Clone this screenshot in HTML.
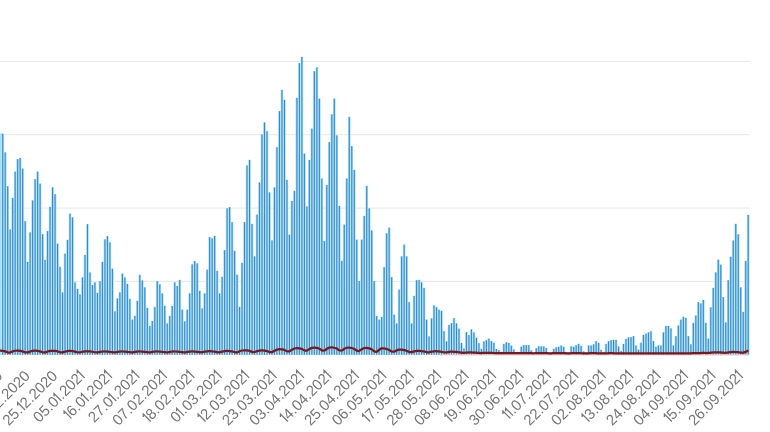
<!DOCTYPE html>
<html><head><meta charset="utf-8"><title>chart</title>
<style>
html,body{margin:0;padding:0;background:#fff;}
body{width:770px;height:432px;overflow:hidden;font-family:"Liberation Sans",sans-serif;}
svg{display:block;filter:blur(0.35px);}
.o{fill:none;stroke:#777777;stroke-width:1.3;stroke-linejoin:miter}
</style></head><body>
<svg width="770" height="432" viewBox="0 0 770 432">
<rect width="770" height="432" fill="#fff"/>
<rect x="0" y="60.85" width="749.8" height="1.1" fill="#e9e9e9"/>
<rect x="0" y="134.15" width="749.8" height="1.1" fill="#e9e9e9"/>
<rect x="0" y="207.55" width="749.8" height="1.1" fill="#e9e9e9"/>
<rect x="0" y="280.85" width="749.8" height="1.1" fill="#e9e9e9"/>
<g fill="#a4e0f8"><rect x="-1.09" y="133.45" width="2.6" height="221.35"/><rect x="1.40" y="133.45" width="2.6" height="221.35"/><rect x="3.89" y="152.20" width="2.6" height="202.60"/><rect x="6.39" y="185.95" width="2.6" height="168.85"/><rect x="8.88" y="229.20" width="2.6" height="125.60"/><rect x="11.37" y="197.70" width="2.6" height="157.10"/><rect x="13.87" y="171.45" width="2.6" height="183.35"/><rect x="16.36" y="158.95" width="2.6" height="195.85"/><rect x="18.85" y="157.70" width="2.6" height="197.10"/><rect x="21.35" y="168.45" width="2.6" height="186.35"/><rect x="23.84" y="220.95" width="2.6" height="133.85"/><rect x="26.33" y="261.70" width="2.6" height="93.10"/><rect x="28.83" y="232.20" width="2.6" height="122.60"/><rect x="31.32" y="200.20" width="2.6" height="154.60"/><rect x="33.81" y="178.95" width="2.6" height="175.85"/><rect x="36.31" y="171.45" width="2.6" height="183.35"/><rect x="38.80" y="183.45" width="2.6" height="171.35"/><rect x="41.29" y="233.95" width="2.6" height="120.85"/><rect x="43.79" y="259.70" width="2.6" height="95.10"/><rect x="46.28" y="230.95" width="2.6" height="123.85"/><rect x="48.77" y="206.70" width="2.6" height="148.10"/><rect x="51.27" y="187.20" width="2.6" height="167.60"/><rect x="53.76" y="193.95" width="2.6" height="160.85"/><rect x="56.25" y="243.45" width="2.6" height="111.35"/><rect x="58.75" y="266.70" width="2.6" height="88.10"/><rect x="61.24" y="292.20" width="2.6" height="62.60"/><rect x="63.73" y="253.45" width="2.6" height="101.35"/><rect x="66.23" y="239.70" width="2.6" height="115.10"/><rect x="68.72" y="213.45" width="2.6" height="141.35"/><rect x="71.21" y="217.20" width="2.6" height="137.60"/><rect x="73.71" y="282.20" width="2.6" height="72.60"/><rect x="76.20" y="288.70" width="2.6" height="66.10"/><rect x="78.69" y="294.20" width="2.6" height="60.60"/><rect x="81.19" y="277.20" width="2.6" height="77.60"/><rect x="83.68" y="254.70" width="2.6" height="100.10"/><rect x="86.17" y="223.95" width="2.6" height="130.85"/><rect x="88.67" y="272.20" width="2.6" height="82.60"/><rect x="91.16" y="284.70" width="2.6" height="70.10"/><rect x="93.65" y="282.20" width="2.6" height="72.60"/><rect x="96.15" y="292.70" width="2.6" height="62.10"/><rect x="98.64" y="280.95" width="2.6" height="73.85"/><rect x="101.13" y="261.70" width="2.6" height="93.10"/><rect x="103.63" y="239.20" width="2.6" height="115.60"/><rect x="106.12" y="235.95" width="2.6" height="118.85"/><rect x="108.61" y="242.20" width="2.6" height="112.60"/><rect x="111.11" y="268.45" width="2.6" height="86.35"/><rect x="113.60" y="311.20" width="2.6" height="43.60"/><rect x="116.09" y="298.20" width="2.6" height="56.60"/><rect x="118.59" y="292.20" width="2.6" height="62.60"/><rect x="121.08" y="273.45" width="2.6" height="81.35"/><rect x="123.57" y="277.20" width="2.6" height="77.60"/><rect x="126.07" y="283.70" width="2.6" height="71.10"/><rect x="128.56" y="298.70" width="2.6" height="56.10"/><rect x="131.05" y="319.45" width="2.6" height="35.35"/><rect x="133.54" y="315.70" width="2.6" height="39.10"/><rect x="136.04" y="300.70" width="2.6" height="54.10"/><rect x="138.53" y="274.70" width="2.6" height="80.10"/><rect x="141.02" y="280.20" width="2.6" height="74.60"/><rect x="143.52" y="287.20" width="2.6" height="67.60"/><rect x="146.01" y="307.70" width="2.6" height="47.10"/><rect x="148.50" y="325.70" width="2.6" height="29.10"/><rect x="151.00" y="320.70" width="2.6" height="34.10"/><rect x="153.49" y="306.70" width="2.6" height="48.10"/><rect x="155.98" y="280.95" width="2.6" height="73.85"/><rect x="158.48" y="284.20" width="2.6" height="70.60"/><rect x="160.97" y="293.20" width="2.6" height="61.60"/><rect x="163.46" y="305.70" width="2.6" height="49.10"/><rect x="165.96" y="323.20" width="2.6" height="31.60"/><rect x="168.45" y="315.70" width="2.6" height="39.10"/><rect x="170.94" y="305.70" width="2.6" height="49.10"/><rect x="173.44" y="282.20" width="2.6" height="72.60"/><rect x="175.93" y="285.70" width="2.6" height="69.10"/><rect x="178.42" y="279.70" width="2.6" height="75.10"/><rect x="180.92" y="309.45" width="2.6" height="45.35"/><rect x="183.41" y="321.20" width="2.6" height="33.60"/><rect x="185.90" y="309.45" width="2.6" height="45.35"/><rect x="188.40" y="293.20" width="2.6" height="61.60"/><rect x="190.89" y="264.20" width="2.6" height="90.60"/><rect x="193.38" y="260.70" width="2.6" height="94.10"/><rect x="195.88" y="263.20" width="2.6" height="91.60"/><rect x="198.37" y="290.70" width="2.6" height="64.10"/><rect x="200.86" y="308.20" width="2.6" height="46.60"/><rect x="203.36" y="293.20" width="2.6" height="61.60"/><rect x="205.85" y="269.45" width="2.6" height="85.35"/><rect x="208.34" y="236.95" width="2.6" height="117.85"/><rect x="210.84" y="238.20" width="2.6" height="116.60"/><rect x="213.33" y="235.70" width="2.6" height="119.10"/><rect x="215.82" y="270.70" width="2.6" height="84.10"/><rect x="218.32" y="293.20" width="2.6" height="61.60"/><rect x="220.81" y="276.70" width="2.6" height="78.10"/><rect x="223.30" y="249.95" width="2.6" height="104.85"/><rect x="225.80" y="208.20" width="2.6" height="146.60"/><rect x="228.29" y="206.95" width="2.6" height="147.85"/><rect x="230.78" y="221.95" width="2.6" height="132.85"/><rect x="233.28" y="250.70" width="2.6" height="104.10"/><rect x="235.77" y="274.45" width="2.6" height="80.35"/><rect x="238.26" y="306.70" width="2.6" height="48.10"/><rect x="240.76" y="262.70" width="2.6" height="92.10"/><rect x="243.25" y="221.95" width="2.6" height="132.85"/><rect x="245.74" y="165.20" width="2.6" height="189.60"/><rect x="248.24" y="159.70" width="2.6" height="195.10"/><rect x="250.73" y="223.70" width="2.6" height="131.10"/><rect x="253.22" y="256.20" width="2.6" height="98.60"/><rect x="255.72" y="214.45" width="2.6" height="140.35"/><rect x="258.21" y="182.20" width="2.6" height="172.60"/><rect x="260.70" y="134.20" width="2.6" height="220.60"/><rect x="263.20" y="122.20" width="2.6" height="232.60"/><rect x="265.69" y="130.95" width="2.6" height="223.85"/><rect x="268.18" y="192.20" width="2.6" height="162.60"/><rect x="270.68" y="240.20" width="2.6" height="114.60"/><rect x="273.17" y="187.20" width="2.6" height="167.60"/><rect x="275.66" y="146.95" width="2.6" height="207.85"/><rect x="278.16" y="110.95" width="2.6" height="243.85"/><rect x="280.65" y="89.70" width="2.6" height="265.10"/><rect x="283.14" y="99.70" width="2.6" height="255.10"/><rect x="285.64" y="179.70" width="2.6" height="175.10"/><rect x="288.13" y="234.45" width="2.6" height="120.35"/><rect x="290.62" y="200.70" width="2.6" height="154.10"/><rect x="293.12" y="190.70" width="2.6" height="164.10"/><rect x="295.61" y="97.70" width="2.6" height="257.10"/><rect x="298.10" y="62.95" width="2.6" height="291.85"/><rect x="300.60" y="56.70" width="2.6" height="298.10"/><rect x="303.09" y="153.45" width="2.6" height="201.35"/><rect x="305.58" y="206.20" width="2.6" height="148.60"/><rect x="308.08" y="159.70" width="2.6" height="195.10"/><rect x="310.57" y="128.45" width="2.6" height="226.35"/><rect x="313.06" y="70.95" width="2.6" height="283.85"/><rect x="315.56" y="67.20" width="2.6" height="287.60"/><rect x="318.05" y="98.45" width="2.6" height="256.35"/><rect x="320.54" y="178.30" width="2.6" height="176.50"/><rect x="323.04" y="240.70" width="2.6" height="114.10"/><rect x="325.53" y="184.70" width="2.6" height="170.10"/><rect x="328.02" y="141.95" width="2.6" height="212.85"/><rect x="330.52" y="114.20" width="2.6" height="240.60"/><rect x="333.01" y="98.45" width="2.6" height="256.35"/><rect x="335.50" y="135.20" width="2.6" height="219.60"/><rect x="338.00" y="205.70" width="2.6" height="149.10"/><rect x="340.49" y="260.70" width="2.6" height="94.10"/><rect x="342.98" y="224.45" width="2.6" height="130.35"/><rect x="345.48" y="178.30" width="2.6" height="176.50"/><rect x="347.97" y="116.70" width="2.6" height="238.10"/><rect x="350.46" y="145.95" width="2.6" height="208.85"/><rect x="352.96" y="169.70" width="2.6" height="185.10"/><rect x="355.45" y="239.45" width="2.6" height="115.35"/><rect x="357.94" y="280.70" width="2.6" height="74.10"/><rect x="360.44" y="239.45" width="2.6" height="115.35"/><rect x="362.93" y="215.70" width="2.6" height="139.10"/><rect x="365.42" y="185.70" width="2.6" height="169.10"/><rect x="367.92" y="208.20" width="2.6" height="146.60"/><rect x="370.41" y="230.20" width="2.6" height="124.60"/><rect x="372.90" y="280.70" width="2.6" height="74.10"/><rect x="375.39" y="315.70" width="2.6" height="39.10"/><rect x="377.89" y="319.45" width="2.6" height="35.35"/><rect x="380.38" y="316.70" width="2.6" height="38.10"/><rect x="382.87" y="266.95" width="2.6" height="87.85"/><rect x="385.37" y="233.20" width="2.6" height="121.60"/><rect x="387.86" y="227.45" width="2.6" height="127.35"/><rect x="390.35" y="276.95" width="2.6" height="77.85"/><rect x="392.85" y="314.45" width="2.6" height="40.35"/><rect x="395.34" y="323.20" width="2.6" height="31.60"/><rect x="397.83" y="289.45" width="2.6" height="65.35"/><rect x="400.33" y="256.20" width="2.6" height="98.60"/><rect x="402.82" y="244.45" width="2.6" height="110.35"/><rect x="405.31" y="256.20" width="2.6" height="98.60"/><rect x="407.81" y="301.95" width="2.6" height="52.85"/><rect x="410.30" y="323.20" width="2.6" height="31.60"/><rect x="412.79" y="295.70" width="2.6" height="59.10"/><rect x="415.29" y="279.95" width="2.6" height="74.85"/><rect x="417.78" y="279.70" width="2.6" height="75.10"/><rect x="420.27" y="282.20" width="2.6" height="72.60"/><rect x="422.77" y="287.70" width="2.6" height="67.10"/><rect x="425.26" y="319.45" width="2.6" height="35.35"/><rect x="427.75" y="336.20" width="2.6" height="18.60"/><rect x="430.25" y="318.20" width="2.6" height="36.60"/><rect x="432.74" y="305.20" width="2.6" height="49.60"/><rect x="435.23" y="306.95" width="2.6" height="47.85"/><rect x="437.73" y="309.45" width="2.6" height="45.35"/><rect x="440.22" y="310.70" width="2.6" height="44.10"/><rect x="442.71" y="330.95" width="2.6" height="23.85"/><rect x="445.21" y="341.20" width="2.6" height="13.60"/><rect x="447.70" y="324.70" width="2.6" height="30.10"/><rect x="450.19" y="322.95" width="2.6" height="31.85"/><rect x="452.69" y="317.95" width="2.6" height="36.85"/><rect x="455.18" y="323.20" width="2.6" height="31.60"/><rect x="457.67" y="328.45" width="2.6" height="26.35"/><rect x="460.17" y="342.70" width="2.6" height="12.10"/><rect x="462.66" y="348.20" width="2.6" height="6.60"/><rect x="465.15" y="331.95" width="2.6" height="22.85"/><rect x="467.65" y="334.95" width="2.6" height="19.85"/><rect x="470.14" y="329.20" width="2.6" height="25.60"/><rect x="472.63" y="332.20" width="2.6" height="22.60"/><rect x="475.13" y="337.45" width="2.6" height="17.35"/><rect x="477.62" y="342.95" width="2.6" height="11.85"/><rect x="480.11" y="348.70" width="2.6" height="6.10"/><rect x="482.61" y="341.20" width="2.6" height="13.60"/><rect x="485.10" y="339.95" width="2.6" height="14.85"/><rect x="487.59" y="338.45" width="2.6" height="16.35"/><rect x="490.09" y="340.95" width="2.6" height="13.85"/><rect x="492.58" y="342.45" width="2.6" height="12.35"/><rect x="495.07" y="348.70" width="2.6" height="6.10"/><rect x="497.57" y="349.95" width="2.6" height="4.85"/><rect x="500.06" y="351.70" width="2.6" height="3.10"/><rect x="502.55" y="343.70" width="2.6" height="11.10"/><rect x="505.05" y="342.20" width="2.6" height="12.60"/><rect x="507.54" y="342.70" width="2.6" height="12.10"/><rect x="510.03" y="345.45" width="2.6" height="9.35"/><rect x="512.53" y="349.20" width="2.6" height="5.60"/><rect x="515.02" y="352.20" width="2.6" height="2.60"/><rect x="517.51" y="352.20" width="2.6" height="2.60"/><rect x="520.01" y="346.45" width="2.6" height="8.35"/><rect x="522.50" y="344.95" width="2.6" height="9.85"/><rect x="524.99" y="344.95" width="2.6" height="9.85"/><rect x="527.49" y="344.95" width="2.6" height="9.85"/><rect x="529.98" y="350.20" width="2.6" height="4.60"/><rect x="532.47" y="352.20" width="2.6" height="2.60"/><rect x="534.97" y="347.95" width="2.6" height="6.85"/><rect x="537.46" y="346.20" width="2.6" height="8.60"/><rect x="539.95" y="346.20" width="2.6" height="8.60"/><rect x="542.45" y="346.20" width="2.6" height="8.60"/><rect x="544.94" y="347.70" width="2.6" height="7.10"/><rect x="547.43" y="352.20" width="2.6" height="2.60"/><rect x="549.93" y="352.20" width="2.6" height="2.60"/><rect x="552.42" y="348.70" width="2.6" height="6.10"/><rect x="554.91" y="347.20" width="2.6" height="7.60"/><rect x="557.41" y="346.60" width="2.6" height="8.20"/><rect x="559.90" y="345.30" width="2.6" height="9.50"/><rect x="562.39" y="346.60" width="2.6" height="8.20"/><rect x="564.89" y="351.70" width="2.6" height="3.10"/><rect x="567.38" y="352.20" width="2.6" height="2.60"/><rect x="569.87" y="346.20" width="2.6" height="8.60"/><rect x="572.37" y="346.60" width="2.6" height="8.20"/><rect x="574.86" y="344.95" width="2.6" height="9.85"/><rect x="577.35" y="343.70" width="2.6" height="11.10"/><rect x="579.85" y="345.70" width="2.6" height="9.10"/><rect x="582.34" y="351.20" width="2.6" height="3.60"/><rect x="584.83" y="352.20" width="2.6" height="2.60"/><rect x="587.33" y="345.30" width="2.6" height="9.50"/><rect x="589.82" y="345.30" width="2.6" height="9.50"/><rect x="592.31" y="344.10" width="2.6" height="10.70"/><rect x="594.81" y="340.95" width="2.6" height="13.85"/><rect x="597.30" y="342.70" width="2.6" height="12.10"/><rect x="599.79" y="349.70" width="2.6" height="5.10"/><rect x="602.29" y="351.70" width="2.6" height="3.10"/><rect x="604.78" y="343.70" width="2.6" height="11.10"/><rect x="607.27" y="340.95" width="2.6" height="13.85"/><rect x="609.77" y="339.95" width="2.6" height="14.85"/><rect x="612.26" y="339.70" width="2.6" height="15.10"/><rect x="614.75" y="339.70" width="2.6" height="15.10"/><rect x="617.25" y="346.20" width="2.6" height="8.60"/><rect x="619.74" y="350.70" width="2.6" height="4.10"/><rect x="622.23" y="343.70" width="2.6" height="11.10"/><rect x="624.73" y="338.70" width="2.6" height="16.10"/><rect x="627.22" y="337.20" width="2.6" height="17.60"/><rect x="629.71" y="336.95" width="2.6" height="17.85"/><rect x="632.20" y="335.95" width="2.6" height="18.85"/><rect x="634.70" y="345.30" width="2.6" height="9.50"/><rect x="637.19" y="349.45" width="2.6" height="5.35"/><rect x="639.68" y="342.45" width="2.6" height="12.35"/><rect x="642.18" y="334.70" width="2.6" height="20.10"/><rect x="644.67" y="333.45" width="2.6" height="21.35"/><rect x="647.16" y="332.20" width="2.6" height="22.60"/><rect x="649.66" y="330.95" width="2.6" height="23.85"/><rect x="652.15" y="340.95" width="2.6" height="13.85"/><rect x="654.64" y="346.60" width="2.6" height="8.20"/><rect x="657.14" y="345.30" width="2.6" height="9.50"/><rect x="659.63" y="345.30" width="2.6" height="9.50"/><rect x="662.12" y="332.20" width="2.6" height="22.60"/><rect x="664.62" y="325.70" width="2.6" height="29.10"/><rect x="667.11" y="325.70" width="2.6" height="29.10"/><rect x="669.60" y="328.20" width="2.6" height="26.60"/><rect x="672.10" y="345.30" width="2.6" height="9.50"/><rect x="674.59" y="335.95" width="2.6" height="18.85"/><rect x="677.08" y="325.30" width="2.6" height="29.50"/><rect x="679.58" y="319.45" width="2.6" height="35.35"/><rect x="682.07" y="316.60" width="2.6" height="38.20"/><rect x="684.56" y="317.70" width="2.6" height="37.10"/><rect x="687.06" y="335.95" width="2.6" height="18.85"/><rect x="689.55" y="344.10" width="2.6" height="10.70"/><rect x="692.04" y="322.70" width="2.6" height="32.10"/><rect x="694.54" y="315.30" width="2.6" height="39.50"/><rect x="697.03" y="301.95" width="2.6" height="52.85"/><rect x="699.52" y="303.20" width="2.6" height="51.60"/><rect x="702.02" y="299.70" width="2.6" height="55.10"/><rect x="704.51" y="322.70" width="2.6" height="32.10"/><rect x="707.00" y="338.45" width="2.6" height="16.35"/><rect x="709.50" y="307.20" width="2.6" height="47.60"/><rect x="711.99" y="287.70" width="2.6" height="67.10"/><rect x="714.48" y="272.20" width="2.6" height="82.60"/><rect x="716.98" y="259.45" width="2.6" height="95.35"/><rect x="719.47" y="264.45" width="2.6" height="90.35"/><rect x="721.96" y="296.95" width="2.6" height="57.85"/><rect x="724.46" y="322.20" width="2.6" height="32.60"/><rect x="726.95" y="279.95" width="2.6" height="74.85"/><rect x="729.44" y="256.60" width="2.6" height="98.20"/><rect x="731.94" y="240.30" width="2.6" height="114.50"/><rect x="734.43" y="223.70" width="2.6" height="131.10"/><rect x="736.92" y="234.10" width="2.6" height="120.70"/><rect x="739.42" y="287.20" width="2.6" height="67.60"/><rect x="741.91" y="311.70" width="2.6" height="43.10"/><rect x="744.40" y="260.70" width="2.6" height="94.10"/><rect x="746.90" y="214.70" width="2.6" height="140.10"/></g>
<g fill="#3d87c4"><rect x="2.15" y="133.75" width="1.1" height="221.05"/><rect x="4.64" y="152.50" width="1.1" height="202.30"/><rect x="7.14" y="186.25" width="1.1" height="168.55"/><rect x="9.63" y="229.50" width="1.1" height="125.30"/><rect x="12.12" y="198.00" width="1.1" height="156.80"/><rect x="14.62" y="171.75" width="1.1" height="183.05"/><rect x="17.11" y="159.25" width="1.1" height="195.55"/><rect x="19.60" y="158.00" width="1.1" height="196.80"/><rect x="22.10" y="168.75" width="1.1" height="186.05"/><rect x="24.59" y="221.25" width="1.1" height="133.55"/><rect x="27.08" y="262.00" width="1.1" height="92.80"/><rect x="29.58" y="232.50" width="1.1" height="122.30"/><rect x="32.07" y="200.50" width="1.1" height="154.30"/><rect x="34.56" y="179.25" width="1.1" height="175.55"/><rect x="37.06" y="171.75" width="1.1" height="183.05"/><rect x="39.55" y="183.75" width="1.1" height="171.05"/><rect x="42.04" y="234.25" width="1.1" height="120.55"/><rect x="44.54" y="260.00" width="1.1" height="94.80"/><rect x="47.03" y="231.25" width="1.1" height="123.55"/><rect x="49.52" y="207.00" width="1.1" height="147.80"/><rect x="52.02" y="187.50" width="1.1" height="167.30"/><rect x="54.51" y="194.25" width="1.1" height="160.55"/><rect x="57.00" y="243.75" width="1.1" height="111.05"/><rect x="59.50" y="267.00" width="1.1" height="87.80"/><rect x="61.99" y="292.50" width="1.1" height="62.30"/><rect x="64.48" y="253.75" width="1.1" height="101.05"/><rect x="66.98" y="240.00" width="1.1" height="114.80"/><rect x="69.47" y="213.75" width="1.1" height="141.05"/><rect x="71.96" y="217.50" width="1.1" height="137.30"/><rect x="74.46" y="282.50" width="1.1" height="72.30"/><rect x="76.95" y="289.00" width="1.1" height="65.80"/><rect x="79.44" y="294.50" width="1.1" height="60.30"/><rect x="81.94" y="277.50" width="1.1" height="77.30"/><rect x="84.43" y="255.00" width="1.1" height="99.80"/><rect x="86.92" y="224.25" width="1.1" height="130.55"/><rect x="89.42" y="272.50" width="1.1" height="82.30"/><rect x="91.91" y="285.00" width="1.1" height="69.80"/><rect x="94.40" y="282.50" width="1.1" height="72.30"/><rect x="96.90" y="293.00" width="1.1" height="61.80"/><rect x="99.39" y="281.25" width="1.1" height="73.55"/><rect x="101.88" y="262.00" width="1.1" height="92.80"/><rect x="104.38" y="239.50" width="1.1" height="115.30"/><rect x="106.87" y="236.25" width="1.1" height="118.55"/><rect x="109.36" y="242.50" width="1.1" height="112.30"/><rect x="111.86" y="268.75" width="1.1" height="86.05"/><rect x="114.35" y="311.50" width="1.1" height="43.30"/><rect x="116.84" y="298.50" width="1.1" height="56.30"/><rect x="119.34" y="292.50" width="1.1" height="62.30"/><rect x="121.83" y="273.75" width="1.1" height="81.05"/><rect x="124.32" y="277.50" width="1.1" height="77.30"/><rect x="126.82" y="284.00" width="1.1" height="70.80"/><rect x="129.31" y="299.00" width="1.1" height="55.80"/><rect x="131.80" y="319.75" width="1.1" height="35.05"/><rect x="134.29" y="316.00" width="1.1" height="38.80"/><rect x="136.79" y="301.00" width="1.1" height="53.80"/><rect x="139.28" y="275.00" width="1.1" height="79.80"/><rect x="141.77" y="280.50" width="1.1" height="74.30"/><rect x="144.27" y="287.50" width="1.1" height="67.30"/><rect x="146.76" y="308.00" width="1.1" height="46.80"/><rect x="149.25" y="326.00" width="1.1" height="28.80"/><rect x="151.75" y="321.00" width="1.1" height="33.80"/><rect x="154.24" y="307.00" width="1.1" height="47.80"/><rect x="156.73" y="281.25" width="1.1" height="73.55"/><rect x="159.23" y="284.50" width="1.1" height="70.30"/><rect x="161.72" y="293.50" width="1.1" height="61.30"/><rect x="164.21" y="306.00" width="1.1" height="48.80"/><rect x="166.71" y="323.50" width="1.1" height="31.30"/><rect x="169.20" y="316.00" width="1.1" height="38.80"/><rect x="171.69" y="306.00" width="1.1" height="48.80"/><rect x="174.19" y="282.50" width="1.1" height="72.30"/><rect x="176.68" y="286.00" width="1.1" height="68.80"/><rect x="179.17" y="280.00" width="1.1" height="74.80"/><rect x="181.67" y="309.75" width="1.1" height="45.05"/><rect x="184.16" y="321.50" width="1.1" height="33.30"/><rect x="186.65" y="309.75" width="1.1" height="45.05"/><rect x="189.15" y="293.50" width="1.1" height="61.30"/><rect x="191.64" y="264.50" width="1.1" height="90.30"/><rect x="194.13" y="261.00" width="1.1" height="93.80"/><rect x="196.63" y="263.50" width="1.1" height="91.30"/><rect x="199.12" y="291.00" width="1.1" height="63.80"/><rect x="201.61" y="308.50" width="1.1" height="46.30"/><rect x="204.11" y="293.50" width="1.1" height="61.30"/><rect x="206.60" y="269.75" width="1.1" height="85.05"/><rect x="209.09" y="237.25" width="1.1" height="117.55"/><rect x="211.59" y="238.50" width="1.1" height="116.30"/><rect x="214.08" y="236.00" width="1.1" height="118.80"/><rect x="216.57" y="271.00" width="1.1" height="83.80"/><rect x="219.07" y="293.50" width="1.1" height="61.30"/><rect x="221.56" y="277.00" width="1.1" height="77.80"/><rect x="224.05" y="250.25" width="1.1" height="104.55"/><rect x="226.55" y="208.50" width="1.1" height="146.30"/><rect x="229.04" y="207.25" width="1.1" height="147.55"/><rect x="231.53" y="222.25" width="1.1" height="132.55"/><rect x="234.03" y="251.00" width="1.1" height="103.80"/><rect x="236.52" y="274.75" width="1.1" height="80.05"/><rect x="239.01" y="307.00" width="1.1" height="47.80"/><rect x="241.51" y="263.00" width="1.1" height="91.80"/><rect x="244.00" y="222.25" width="1.1" height="132.55"/><rect x="246.49" y="165.50" width="1.1" height="189.30"/><rect x="248.99" y="160.00" width="1.1" height="194.80"/><rect x="251.48" y="224.00" width="1.1" height="130.80"/><rect x="253.97" y="256.50" width="1.1" height="98.30"/><rect x="256.47" y="214.75" width="1.1" height="140.05"/><rect x="258.96" y="182.50" width="1.1" height="172.30"/><rect x="261.45" y="134.50" width="1.1" height="220.30"/><rect x="263.95" y="122.50" width="1.1" height="232.30"/><rect x="266.44" y="131.25" width="1.1" height="223.55"/><rect x="268.93" y="192.50" width="1.1" height="162.30"/><rect x="271.43" y="240.50" width="1.1" height="114.30"/><rect x="273.92" y="187.50" width="1.1" height="167.30"/><rect x="276.41" y="147.25" width="1.1" height="207.55"/><rect x="278.91" y="111.25" width="1.1" height="243.55"/><rect x="281.40" y="90.00" width="1.1" height="264.80"/><rect x="283.89" y="100.00" width="1.1" height="254.80"/><rect x="286.39" y="180.00" width="1.1" height="174.80"/><rect x="288.88" y="234.75" width="1.1" height="120.05"/><rect x="291.37" y="201.00" width="1.1" height="153.80"/><rect x="293.87" y="191.00" width="1.1" height="163.80"/><rect x="296.36" y="98.00" width="1.1" height="256.80"/><rect x="298.85" y="63.25" width="1.1" height="291.55"/><rect x="301.35" y="57.00" width="1.1" height="297.80"/><rect x="303.84" y="153.75" width="1.1" height="201.05"/><rect x="306.33" y="206.50" width="1.1" height="148.30"/><rect x="308.83" y="160.00" width="1.1" height="194.80"/><rect x="311.32" y="128.75" width="1.1" height="226.05"/><rect x="313.81" y="71.25" width="1.1" height="283.55"/><rect x="316.31" y="67.50" width="1.1" height="287.30"/><rect x="318.80" y="98.75" width="1.1" height="256.05"/><rect x="321.29" y="178.60" width="1.1" height="176.20"/><rect x="323.79" y="241.00" width="1.1" height="113.80"/><rect x="326.28" y="185.00" width="1.1" height="169.80"/><rect x="328.77" y="142.25" width="1.1" height="212.55"/><rect x="331.27" y="114.50" width="1.1" height="240.30"/><rect x="333.76" y="98.75" width="1.1" height="256.05"/><rect x="336.25" y="135.50" width="1.1" height="219.30"/><rect x="338.75" y="206.00" width="1.1" height="148.80"/><rect x="341.24" y="261.00" width="1.1" height="93.80"/><rect x="343.73" y="224.75" width="1.1" height="130.05"/><rect x="346.23" y="178.60" width="1.1" height="176.20"/><rect x="348.72" y="117.00" width="1.1" height="237.80"/><rect x="351.21" y="146.25" width="1.1" height="208.55"/><rect x="353.71" y="170.00" width="1.1" height="184.80"/><rect x="356.20" y="239.75" width="1.1" height="115.05"/><rect x="358.69" y="281.00" width="1.1" height="73.80"/><rect x="361.19" y="239.75" width="1.1" height="115.05"/><rect x="363.68" y="216.00" width="1.1" height="138.80"/><rect x="366.17" y="186.00" width="1.1" height="168.80"/><rect x="368.67" y="208.50" width="1.1" height="146.30"/><rect x="371.16" y="230.50" width="1.1" height="124.30"/><rect x="373.65" y="281.00" width="1.1" height="73.80"/><rect x="376.14" y="316.00" width="1.1" height="38.80"/><rect x="378.64" y="319.75" width="1.1" height="35.05"/><rect x="381.13" y="317.00" width="1.1" height="37.80"/><rect x="383.62" y="267.25" width="1.1" height="87.55"/><rect x="386.12" y="233.50" width="1.1" height="121.30"/><rect x="388.61" y="227.75" width="1.1" height="127.05"/><rect x="391.10" y="277.25" width="1.1" height="77.55"/><rect x="393.60" y="314.75" width="1.1" height="40.05"/><rect x="396.09" y="323.50" width="1.1" height="31.30"/><rect x="398.58" y="289.75" width="1.1" height="65.05"/><rect x="401.08" y="256.50" width="1.1" height="98.30"/><rect x="403.57" y="244.75" width="1.1" height="110.05"/><rect x="406.06" y="256.50" width="1.1" height="98.30"/><rect x="408.56" y="302.25" width="1.1" height="52.55"/><rect x="411.05" y="323.50" width="1.1" height="31.30"/><rect x="413.54" y="296.00" width="1.1" height="58.80"/><rect x="416.04" y="280.25" width="1.1" height="74.55"/><rect x="418.53" y="280.00" width="1.1" height="74.80"/><rect x="421.02" y="282.50" width="1.1" height="72.30"/><rect x="423.52" y="288.00" width="1.1" height="66.80"/><rect x="426.01" y="319.75" width="1.1" height="35.05"/><rect x="428.50" y="336.50" width="1.1" height="18.30"/><rect x="431.00" y="318.50" width="1.1" height="36.30"/><rect x="433.49" y="305.50" width="1.1" height="49.30"/><rect x="435.98" y="307.25" width="1.1" height="47.55"/><rect x="438.48" y="309.75" width="1.1" height="45.05"/><rect x="440.97" y="311.00" width="1.1" height="43.80"/><rect x="443.46" y="331.25" width="1.1" height="23.55"/><rect x="445.96" y="341.50" width="1.1" height="13.30"/><rect x="448.45" y="325.00" width="1.1" height="29.80"/><rect x="450.94" y="323.25" width="1.1" height="31.55"/><rect x="453.44" y="318.25" width="1.1" height="36.55"/><rect x="455.93" y="323.50" width="1.1" height="31.30"/><rect x="458.42" y="328.75" width="1.1" height="26.05"/><rect x="460.92" y="343.00" width="1.1" height="11.80"/><rect x="463.41" y="348.50" width="1.1" height="6.30"/><rect x="465.90" y="332.25" width="1.1" height="22.55"/><rect x="468.40" y="335.25" width="1.1" height="19.55"/><rect x="470.89" y="329.50" width="1.1" height="25.30"/><rect x="473.38" y="332.50" width="1.1" height="22.30"/><rect x="475.88" y="337.75" width="1.1" height="17.05"/><rect x="478.37" y="343.25" width="1.1" height="11.55"/><rect x="480.86" y="349.00" width="1.1" height="5.80"/><rect x="483.36" y="341.50" width="1.1" height="13.30"/><rect x="485.85" y="340.25" width="1.1" height="14.55"/><rect x="488.34" y="338.75" width="1.1" height="16.05"/><rect x="490.84" y="341.25" width="1.1" height="13.55"/><rect x="493.33" y="342.75" width="1.1" height="12.05"/><rect x="495.82" y="349.00" width="1.1" height="5.80"/><rect x="498.32" y="350.25" width="1.1" height="4.55"/><rect x="500.81" y="352.00" width="1.1" height="2.80"/><rect x="503.30" y="344.00" width="1.1" height="10.80"/><rect x="505.80" y="342.50" width="1.1" height="12.30"/><rect x="508.29" y="343.00" width="1.1" height="11.80"/><rect x="510.78" y="345.75" width="1.1" height="9.05"/><rect x="513.28" y="349.50" width="1.1" height="5.30"/><rect x="515.77" y="352.50" width="1.1" height="2.30"/><rect x="518.26" y="352.50" width="1.1" height="2.30"/><rect x="520.76" y="346.75" width="1.1" height="8.05"/><rect x="523.25" y="345.25" width="1.1" height="9.55"/><rect x="525.74" y="345.25" width="1.1" height="9.55"/><rect x="528.24" y="345.25" width="1.1" height="9.55"/><rect x="530.73" y="350.50" width="1.1" height="4.30"/><rect x="533.22" y="352.50" width="1.1" height="2.30"/><rect x="535.72" y="348.25" width="1.1" height="6.55"/><rect x="538.21" y="346.50" width="1.1" height="8.30"/><rect x="540.70" y="346.50" width="1.1" height="8.30"/><rect x="543.20" y="346.50" width="1.1" height="8.30"/><rect x="545.69" y="348.00" width="1.1" height="6.80"/><rect x="548.18" y="352.50" width="1.1" height="2.30"/><rect x="550.68" y="352.50" width="1.1" height="2.30"/><rect x="553.17" y="349.00" width="1.1" height="5.80"/><rect x="555.66" y="347.50" width="1.1" height="7.30"/><rect x="558.16" y="346.90" width="1.1" height="7.90"/><rect x="560.65" y="345.60" width="1.1" height="9.20"/><rect x="563.14" y="346.90" width="1.1" height="7.90"/><rect x="565.64" y="352.00" width="1.1" height="2.80"/><rect x="568.13" y="352.50" width="1.1" height="2.30"/><rect x="570.62" y="346.50" width="1.1" height="8.30"/><rect x="573.12" y="346.90" width="1.1" height="7.90"/><rect x="575.61" y="345.25" width="1.1" height="9.55"/><rect x="578.10" y="344.00" width="1.1" height="10.80"/><rect x="580.60" y="346.00" width="1.1" height="8.80"/><rect x="583.09" y="351.50" width="1.1" height="3.30"/><rect x="585.58" y="352.50" width="1.1" height="2.30"/><rect x="588.08" y="345.60" width="1.1" height="9.20"/><rect x="590.57" y="345.60" width="1.1" height="9.20"/><rect x="593.06" y="344.40" width="1.1" height="10.40"/><rect x="595.56" y="341.25" width="1.1" height="13.55"/><rect x="598.05" y="343.00" width="1.1" height="11.80"/><rect x="600.54" y="350.00" width="1.1" height="4.80"/><rect x="603.04" y="352.00" width="1.1" height="2.80"/><rect x="605.53" y="344.00" width="1.1" height="10.80"/><rect x="608.02" y="341.25" width="1.1" height="13.55"/><rect x="610.52" y="340.25" width="1.1" height="14.55"/><rect x="613.01" y="340.00" width="1.1" height="14.80"/><rect x="615.50" y="340.00" width="1.1" height="14.80"/><rect x="618.00" y="346.50" width="1.1" height="8.30"/><rect x="620.49" y="351.00" width="1.1" height="3.80"/><rect x="622.98" y="344.00" width="1.1" height="10.80"/><rect x="625.48" y="339.00" width="1.1" height="15.80"/><rect x="627.97" y="337.50" width="1.1" height="17.30"/><rect x="630.46" y="337.25" width="1.1" height="17.55"/><rect x="632.95" y="336.25" width="1.1" height="18.55"/><rect x="635.45" y="345.60" width="1.1" height="9.20"/><rect x="637.94" y="349.75" width="1.1" height="5.05"/><rect x="640.43" y="342.75" width="1.1" height="12.05"/><rect x="642.93" y="335.00" width="1.1" height="19.80"/><rect x="645.42" y="333.75" width="1.1" height="21.05"/><rect x="647.91" y="332.50" width="1.1" height="22.30"/><rect x="650.41" y="331.25" width="1.1" height="23.55"/><rect x="652.90" y="341.25" width="1.1" height="13.55"/><rect x="655.39" y="346.90" width="1.1" height="7.90"/><rect x="657.89" y="345.60" width="1.1" height="9.20"/><rect x="660.38" y="345.60" width="1.1" height="9.20"/><rect x="662.87" y="332.50" width="1.1" height="22.30"/><rect x="665.37" y="326.00" width="1.1" height="28.80"/><rect x="667.86" y="326.00" width="1.1" height="28.80"/><rect x="670.35" y="328.50" width="1.1" height="26.30"/><rect x="672.85" y="345.60" width="1.1" height="9.20"/><rect x="675.34" y="336.25" width="1.1" height="18.55"/><rect x="677.83" y="325.60" width="1.1" height="29.20"/><rect x="680.33" y="319.75" width="1.1" height="35.05"/><rect x="682.82" y="316.90" width="1.1" height="37.90"/><rect x="685.31" y="318.00" width="1.1" height="36.80"/><rect x="687.81" y="336.25" width="1.1" height="18.55"/><rect x="690.30" y="344.40" width="1.1" height="10.40"/><rect x="692.79" y="323.00" width="1.1" height="31.80"/><rect x="695.29" y="315.60" width="1.1" height="39.20"/><rect x="697.78" y="302.25" width="1.1" height="52.55"/><rect x="700.27" y="303.50" width="1.1" height="51.30"/><rect x="702.77" y="300.00" width="1.1" height="54.80"/><rect x="705.26" y="323.00" width="1.1" height="31.80"/><rect x="707.75" y="338.75" width="1.1" height="16.05"/><rect x="710.25" y="307.50" width="1.1" height="47.30"/><rect x="712.74" y="288.00" width="1.1" height="66.80"/><rect x="715.23" y="272.50" width="1.1" height="82.30"/><rect x="717.73" y="259.75" width="1.1" height="95.05"/><rect x="720.22" y="264.75" width="1.1" height="90.05"/><rect x="722.71" y="297.25" width="1.1" height="57.55"/><rect x="725.21" y="322.50" width="1.1" height="32.30"/><rect x="727.70" y="280.25" width="1.1" height="74.55"/><rect x="730.19" y="256.90" width="1.1" height="97.90"/><rect x="732.69" y="240.60" width="1.1" height="114.20"/><rect x="735.18" y="224.00" width="1.1" height="130.80"/><rect x="737.67" y="234.40" width="1.1" height="120.40"/><rect x="740.17" y="287.50" width="1.1" height="67.30"/><rect x="742.66" y="312.00" width="1.1" height="42.80"/><rect x="745.15" y="261.00" width="1.1" height="93.80"/><rect x="747.65" y="215.00" width="1.1" height="139.80"/></g>
<rect x="440" y="354.5" width="309" height="1.0" fill="#f6cccc"/>
<path d="M-2.29,350.69C-1.95,350.67 -0.46,350.54 0.21,350.55C0.87,350.56 2.04,350.69 2.70,350.80C3.36,350.90 4.53,351.12 5.19,351.32C5.86,351.52 7.02,352.15 7.69,352.30C8.35,352.45 9.52,352.56 10.18,352.44C10.84,352.32 12.01,351.65 12.67,351.43C13.34,351.20 14.50,350.86 15.17,350.75C15.83,350.64 16.99,350.61 17.66,350.62C18.32,350.64 19.49,350.76 20.15,350.86C20.82,350.96 21.98,351.17 22.65,351.36C23.31,351.55 24.47,352.15 25.14,352.30C25.80,352.44 26.97,352.54 27.63,352.43C28.30,352.32 29.46,351.68 30.13,351.46C30.79,351.25 31.95,350.92 32.62,350.82C33.28,350.71 34.45,350.68 35.11,350.70C35.78,350.71 36.94,350.83 37.61,350.92C38.27,351.01 39.43,351.21 40.10,351.40C40.76,351.58 41.93,352.15 42.59,352.29C43.26,352.42 44.42,352.52 45.09,352.41C45.75,352.31 46.91,351.70 47.58,351.50C48.24,351.29 49.41,350.98 50.07,350.88C50.74,350.79 51.90,350.76 52.57,350.77C53.23,350.78 54.39,350.89 55.06,350.98C55.72,351.07 56.89,351.26 57.55,351.43C58.22,351.61 59.38,352.15 60.05,352.28C60.71,352.41 61.87,352.49 62.54,352.39C63.20,352.30 64.37,351.74 65.03,351.56C65.70,351.38 66.86,351.12 67.53,351.04C68.19,350.96 69.35,350.96 70.02,350.98C70.68,350.99 71.85,351.11 72.51,351.19C73.18,351.27 74.34,351.44 75.01,351.58C75.67,351.73 76.83,352.16 77.50,352.26C78.16,352.36 79.33,352.42 79.99,352.35C80.66,352.28 81.82,351.85 82.49,351.71C83.15,351.57 84.31,351.38 84.98,351.32C85.64,351.26 86.81,351.26 87.47,351.28C88.14,351.30 89.30,351.39 89.97,351.45C90.63,351.51 91.79,351.64 92.46,351.75C93.12,351.85 94.29,352.17 94.95,352.25C95.62,352.32 96.78,352.36 97.45,352.31C98.11,352.25 99.27,351.96 99.94,351.86C100.60,351.76 101.77,351.61 102.43,351.56C103.10,351.51 104.26,351.49 104.93,351.50C105.59,351.51 106.75,351.56 107.42,351.60C108.08,351.64 109.25,351.73 109.91,351.82C110.58,351.91 111.74,352.18 112.41,352.24C113.07,352.30 114.23,352.35 114.90,352.30C115.56,352.25 116.73,351.96 117.39,351.86C118.06,351.76 119.22,351.61 119.89,351.56C120.55,351.51 121.71,351.49 122.38,351.50C123.04,351.51 124.21,351.56 124.87,351.60C125.54,351.64 126.70,351.73 127.37,351.82C128.03,351.91 129.19,352.18 129.86,352.24C130.52,352.30 131.69,352.35 132.35,352.30C133.02,352.25 134.18,351.96 134.84,351.86C135.51,351.76 136.67,351.61 137.34,351.56C138.00,351.51 139.17,351.49 139.83,351.50C140.50,351.51 141.66,351.56 142.32,351.60C142.99,351.64 144.15,351.73 144.82,351.82C145.48,351.91 146.65,352.18 147.31,352.24C147.98,352.30 149.14,352.35 149.80,352.30C150.47,352.25 151.63,351.96 152.30,351.86C152.96,351.76 154.13,351.61 154.79,351.56C155.46,351.51 156.62,351.49 157.28,351.50C157.95,351.51 159.11,351.56 159.78,351.60C160.44,351.64 161.61,351.73 162.27,351.82C162.94,351.91 164.10,352.18 164.76,352.24C165.43,352.30 166.59,352.35 167.26,352.30C167.92,352.25 169.09,351.96 169.75,351.86C170.42,351.76 171.58,351.61 172.24,351.56C172.91,351.51 174.07,351.49 174.74,351.50C175.40,351.51 176.57,351.56 177.23,351.60C177.90,351.64 179.06,351.73 179.72,351.82C180.39,351.91 181.55,352.18 182.22,352.24C182.88,352.30 184.05,352.35 184.71,352.30C185.38,352.25 186.54,351.96 187.20,351.86C187.87,351.76 189.03,351.61 189.70,351.56C190.36,351.51 191.53,351.48 192.19,351.48C192.86,351.48 194.02,351.53 194.68,351.56C195.35,351.60 196.51,351.69 197.18,351.77C197.84,351.85 199.01,352.10 199.67,352.17C200.34,352.23 201.50,352.29 202.16,352.24C202.83,352.18 203.99,351.86 204.66,351.74C205.32,351.63 206.49,351.42 207.15,351.36C207.82,351.29 208.98,351.24 209.64,351.23C210.31,351.23 211.47,351.27 212.14,351.32C212.80,351.37 213.97,351.48 214.63,351.60C215.30,351.72 216.46,352.12 217.12,352.22C217.79,352.32 218.95,352.41 219.62,352.32C220.28,352.24 221.45,351.76 222.11,351.59C222.78,351.42 223.94,351.13 224.60,351.04C225.27,350.94 226.43,350.88 227.10,350.88C227.76,350.88 228.93,350.96 229.59,351.03C230.26,351.09 231.42,351.23 232.08,351.38C232.75,351.54 233.91,352.06 234.58,352.18C235.24,352.30 236.41,352.39 237.07,352.27C237.74,352.14 238.90,351.48 239.56,351.24C240.23,351.01 241.39,350.63 242.06,350.51C242.72,350.38 243.89,350.32 244.55,350.32C245.21,350.31 246.38,350.39 247.04,350.48C247.71,350.56 248.87,350.76 249.54,350.95C250.20,351.13 251.37,351.72 252.03,351.87C252.69,352.01 253.86,352.11 254.52,352.01C255.19,351.91 256.35,351.32 257.02,351.12C257.68,350.93 258.85,350.63 259.51,350.55C260.17,350.46 261.34,350.45 262.00,350.46C262.67,350.48 263.83,350.56 264.50,350.63C265.16,350.70 266.32,350.82 266.99,351.00C267.65,351.18 268.82,351.81 269.48,351.95C270.15,352.10 271.31,352.23 271.98,352.06C272.64,351.89 273.80,351.01 274.47,350.68C275.13,350.34 276.30,349.77 276.96,349.56C277.63,349.36 278.79,349.18 279.46,349.15C280.12,349.13 281.28,349.25 281.95,349.36C282.61,349.47 283.78,349.72 284.44,349.98C285.11,350.23 286.27,351.08 286.94,351.26C287.60,351.44 288.76,351.51 289.43,351.30C290.09,351.09 291.26,350.03 291.92,349.66C292.59,349.29 293.75,348.71 294.42,348.51C295.08,348.31 296.24,348.19 296.91,348.17C297.57,348.15 298.74,348.25 299.40,348.36C300.07,348.47 301.23,348.73 301.90,349.00C302.56,349.27 303.72,350.18 304.39,350.39C305.05,350.61 306.22,350.79 306.88,350.60C307.55,350.41 308.71,349.37 309.38,349.00C310.04,348.63 311.20,348.03 311.87,347.83C312.53,347.63 313.70,347.52 314.36,347.52C315.03,347.52 316.19,347.68 316.86,347.83C317.52,347.99 318.68,348.34 319.35,348.67C320.01,349.01 321.18,350.08 321.84,350.33C322.51,350.58 323.67,350.76 324.34,350.55C325.00,350.35 326.16,349.18 326.83,348.79C327.49,348.40 328.66,347.78 329.32,347.59C329.99,347.40 331.15,347.33 331.82,347.35C332.48,347.36 333.64,347.56 334.31,347.73C334.97,347.90 336.14,348.27 336.80,348.61C337.47,348.95 338.63,350.02 339.30,350.27C339.96,350.53 341.12,350.72 341.79,350.53C342.45,350.34 343.62,349.22 344.28,348.85C344.95,348.48 346.11,347.91 346.78,347.74C347.44,347.57 348.60,347.52 349.27,347.56C349.93,347.59 351.10,347.82 351.76,348.00C352.43,348.19 353.59,348.57 354.26,348.93C354.92,349.28 356.08,350.38 356.75,350.65C357.41,350.92 358.58,351.14 359.24,350.95C359.91,350.77 361.07,349.64 361.74,349.26C362.40,348.88 363.56,348.28 364.23,348.10C364.89,347.91 366.06,347.85 366.72,347.89C367.39,347.92 368.55,348.16 369.22,348.35C369.88,348.55 371.04,348.97 371.71,349.37C372.37,349.77 373.54,351.01 374.20,351.32C374.87,351.64 376.03,351.92 376.69,351.71C377.36,351.50 378.52,350.19 379.19,349.76C379.85,349.32 381.02,348.62 381.68,348.43C382.35,348.25 383.51,348.28 384.17,348.35C384.84,348.42 386.00,348.74 386.67,348.95C387.33,349.17 388.50,349.61 389.16,349.94C389.83,350.28 390.99,351.25 391.65,351.48C392.32,351.70 393.48,351.78 394.15,351.63C394.81,351.48 395.98,350.61 396.64,350.35C397.31,350.09 398.47,349.77 399.13,349.69C399.80,349.61 400.96,349.67 401.63,349.73C402.29,349.79 403.46,350.01 404.12,350.16C404.79,350.30 405.95,350.60 406.61,350.84C407.28,351.07 408.44,351.73 409.11,351.90C409.77,352.08 410.94,352.21 411.60,352.14C412.27,352.06 413.43,351.52 414.09,351.34C414.76,351.16 415.92,350.89 416.59,350.82C417.25,350.74 418.42,350.75 419.08,350.77C419.75,350.80 420.91,350.93 421.57,351.02C422.24,351.11 423.40,351.30 424.07,351.46C424.73,351.62 425.90,352.08 426.56,352.19C427.23,352.30 428.39,352.38 429.05,352.30C429.72,352.23 430.88,351.80 431.55,351.66C432.21,351.53 433.38,351.33 434.04,351.28C434.71,351.23 435.87,351.24 436.53,351.26C437.20,351.28 438.36,351.38 439.03,351.45C439.69,351.52 440.86,351.66 441.52,351.78C442.19,351.89 443.35,352.22 444.01,352.31C444.68,352.39 445.84,352.44 446.51,352.39C447.17,352.34 448.34,352.03 449.00,351.94C449.67,351.85 450.83,351.73 451.49,351.71C452.16,351.68 453.32,351.72 453.99,351.76C454.65,351.79 455.82,351.89 456.48,351.95C457.15,352.02 458.31,352.15 458.97,352.25C459.64,352.34 460.80,352.60 461.47,352.67C462.13,352.75 463.30,352.81 463.96,352.79C464.63,352.77 465.79,352.59 466.45,352.55C467.12,352.50 468.28,352.45 468.95,352.44C469.61,352.43 470.78,352.46 471.44,352.48C472.11,352.50 473.27,352.55 473.93,352.58C474.60,352.62 475.76,352.69 476.43,352.74C477.09,352.80 478.26,352.95 478.92,352.99C479.59,353.03 480.75,353.05 481.41,353.04C482.08,353.02 483.24,352.90 483.91,352.87C484.57,352.83 485.74,352.79 486.40,352.79C487.07,352.78 488.23,352.80 488.89,352.81C489.56,352.82 490.72,352.86 491.39,352.89C492.05,352.91 493.22,352.96 493.88,353.00C494.54,353.03 495.71,353.11 496.37,353.14C497.04,353.16 498.20,353.18 498.87,353.17C499.53,353.17 500.70,353.11 501.36,353.09C502.02,353.08 503.19,353.05 503.85,353.04C504.52,353.03 505.68,353.03 506.35,353.03C507.01,353.04 508.18,353.05 508.84,353.06C509.50,353.07 510.67,353.09 511.33,353.11C512.00,353.13 513.16,353.18 513.83,353.20C514.49,353.21 515.65,353.22 516.32,353.21C516.98,353.20 518.15,353.15 518.81,353.13C519.48,353.11 520.64,353.08 521.31,353.07C521.97,353.07 523.13,353.07 523.80,353.07C524.46,353.07 525.63,353.08 526.29,353.09C526.96,353.10 528.12,353.12 528.79,353.14C529.45,353.16 530.61,353.22 531.28,353.23C531.94,353.24 533.11,353.26 533.77,353.25C534.44,353.24 535.60,353.18 536.27,353.16C536.93,353.15 538.09,353.12 538.76,353.11C539.42,353.10 540.59,353.10 541.25,353.10C541.92,353.10 543.08,353.12 543.75,353.13C544.41,353.14 545.57,353.16 546.24,353.18C546.90,353.19 548.07,353.25 548.73,353.27C549.40,353.28 550.56,353.29 551.23,353.28C551.89,353.27 553.05,353.22 553.72,353.20C554.38,353.18 555.55,353.15 556.21,353.14C556.88,353.14 558.04,353.14 558.71,353.14C559.37,353.14 560.53,353.15 561.20,353.16C561.86,353.17 563.03,353.19 563.69,353.21C564.36,353.23 565.52,353.29 566.19,353.30C566.85,353.31 568.01,353.33 568.68,353.32C569.34,353.31 570.51,353.25 571.17,353.23C571.84,353.22 573.00,353.19 573.67,353.18C574.33,353.17 575.49,353.17 576.16,353.17C576.82,353.17 577.99,353.19 578.65,353.20C579.32,353.21 580.48,353.23 581.15,353.25C581.81,353.26 582.97,353.32 583.64,353.34C584.30,353.35 585.47,353.36 586.13,353.35C586.80,353.34 587.96,353.29 588.63,353.27C589.29,353.25 590.45,353.22 591.12,353.21C591.78,353.21 592.95,353.20 593.61,353.21C594.28,353.21 595.44,353.22 596.11,353.23C596.77,353.24 597.93,353.26 598.60,353.28C599.26,353.30 600.43,353.36 601.09,353.37C601.76,353.38 602.92,353.39 603.59,353.38C604.25,353.38 605.41,353.32 606.08,353.30C606.74,353.28 607.91,353.25 608.57,353.24C609.24,353.23 610.40,353.23 611.07,353.23C611.73,353.24 612.89,353.25 613.56,353.26C614.22,353.27 615.39,353.29 616.05,353.30C616.72,353.32 617.88,353.38 618.55,353.39C619.21,353.40 620.37,353.42 621.04,353.41C621.70,353.40 622.87,353.34 623.53,353.32C624.20,353.30 625.36,353.27 626.03,353.26C626.69,353.26 627.85,353.25 628.52,353.26C629.18,353.26 630.35,353.27 631.01,353.28C631.68,353.29 632.84,353.31 633.50,353.33C634.17,353.34 635.33,353.40 636.00,353.41C636.66,353.43 637.83,353.44 638.49,353.43C639.16,353.42 640.32,353.36 640.98,353.34C641.65,353.32 642.81,353.30 643.48,353.29C644.14,353.28 645.31,353.28 645.97,353.28C646.64,353.28 647.80,353.29 648.46,353.30C649.13,353.31 650.29,353.33 650.96,353.35C651.62,353.37 652.79,353.42 653.45,353.43C654.12,353.45 655.28,353.46 655.94,353.45C656.61,353.44 657.77,353.38 658.44,353.37C659.10,353.35 660.27,353.32 660.93,353.31C661.60,353.30 662.76,353.30 663.42,353.30C664.09,353.30 665.25,353.31 665.92,353.32C666.58,353.33 667.75,353.35 668.41,353.37C669.08,353.39 670.24,353.44 670.90,353.46C671.57,353.47 672.73,353.48 673.40,353.47C674.06,353.46 675.23,353.41 675.89,353.39C676.56,353.37 677.72,353.34 678.38,353.33C679.05,353.32 680.21,353.31 680.88,353.31C681.54,353.30 682.71,353.29 683.37,353.29C684.04,353.29 685.20,353.29 685.86,353.30C686.53,353.30 687.69,353.34 688.36,353.34C689.02,353.35 690.19,353.34 690.85,353.32C691.52,353.30 692.68,353.22 693.34,353.19C694.01,353.16 695.17,353.11 695.84,353.09C696.50,353.07 697.67,353.06 698.33,353.05C699.00,353.03 700.16,353.02 700.82,353.01C701.49,353.00 702.65,352.97 703.32,352.97C703.98,352.97 705.15,353.02 705.81,353.02C706.48,353.02 707.64,353.02 708.30,352.98C708.97,352.94 710.13,352.79 710.80,352.72C711.46,352.66 712.63,352.53 713.29,352.49C713.96,352.44 715.12,352.38 715.78,352.37C716.45,352.35 717.61,352.35 718.28,352.37C718.94,352.38 720.11,352.41 720.77,352.46C721.44,352.51 722.60,352.68 723.26,352.72C723.93,352.76 725.09,352.80 725.76,352.75C726.42,352.70 727.59,352.46 728.25,352.37C728.92,352.28 730.08,352.12 730.74,352.07C731.41,352.01 732.57,351.98 733.24,351.98C733.90,351.97 735.07,352.00 735.73,352.03C736.40,352.06 737.56,352.13 738.22,352.20C738.89,352.27 740.05,352.50 740.72,352.55C741.38,352.60 742.55,352.66 743.21,352.58C743.87,352.49 745.04,352.19 745.70,351.90C746.37,351.61 747.86,350.60 748.20,350.40" fill="none" stroke="#7f171a" stroke-width="2.25" stroke-linejoin="round" stroke-linecap="butt"/>
<g font-family="Liberation Sans, sans-serif" font-size="15.2" fill="#777777"><g transform="translate(3.41,376.80) rotate(-45)"><text transform="translate(-8.27,0) scale(0.978,1)">0</text><text transform="translate(-16.53,0) scale(0.978,1)">2</text><text transform="translate(-24.80,0) scale(0.978,1)">0</text><text transform="translate(-33.06,0) scale(0.978,1)">2</text><text transform="translate(-37.19,0) scale(0.978,1)">.</text><text transform="translate(-45.46,0) scale(0.978,1)">2</text><path class="o" d="M-46.93,0V-10.46L-49.03,-8.36"/><text transform="translate(-53.46,0) scale(0.978,1)">.</text><text transform="translate(-61.72,0) scale(0.978,1)">3</text><text transform="translate(-69.99,0) scale(0.978,1)">0</text></g><g transform="translate(30.83,376.80) rotate(-45)"><text transform="translate(-8.27,0) scale(0.978,1)">0</text><text transform="translate(-16.53,0) scale(0.978,1)">2</text><text transform="translate(-24.80,0) scale(0.978,1)">0</text><text transform="translate(-33.06,0) scale(0.978,1)">2</text><text transform="translate(-37.19,0) scale(0.978,1)">.</text><text transform="translate(-45.46,0) scale(0.978,1)">2</text><path class="o" d="M-46.93,0V-10.46L-49.03,-8.36"/><text transform="translate(-53.46,0) scale(0.978,1)">.</text><text transform="translate(-61.72,0) scale(0.978,1)">4</text><path class="o" d="M-63.19,0V-10.46L-65.29,-8.36"/></g><g transform="translate(58.26,376.80) rotate(-45)"><text transform="translate(-8.27,0) scale(0.978,1)">0</text><text transform="translate(-16.53,0) scale(0.978,1)">2</text><text transform="translate(-24.80,0) scale(0.978,1)">0</text><text transform="translate(-33.06,0) scale(0.978,1)">2</text><text transform="translate(-37.19,0) scale(0.978,1)">.</text><text transform="translate(-45.46,0) scale(0.978,1)">2</text><path class="o" d="M-46.93,0V-10.46L-49.03,-8.36"/><text transform="translate(-53.46,0) scale(0.978,1)">.</text><text transform="translate(-61.72,0) scale(0.978,1)">5</text><text transform="translate(-69.99,0) scale(0.978,1)">2</text></g><g transform="translate(85.69,376.80) rotate(-45)"><path class="o" d="M-1.47,0V-10.46L-3.57,-8.36"/><text transform="translate(-12.13,0) scale(0.978,1)">2</text><text transform="translate(-20.40,0) scale(0.978,1)">0</text><text transform="translate(-28.66,0) scale(0.978,1)">2</text><text transform="translate(-32.79,0) scale(0.978,1)">.</text><path class="o" d="M-34.26,0V-10.46L-36.36,-8.36"/><text transform="translate(-44.92,0) scale(0.978,1)">0</text><text transform="translate(-49.06,0) scale(0.978,1)">.</text><text transform="translate(-57.32,0) scale(0.978,1)">5</text><text transform="translate(-65.59,0) scale(0.978,1)">0</text></g><g transform="translate(113.11,376.80) rotate(-45)"><path class="o" d="M-1.47,0V-10.46L-3.57,-8.36"/><text transform="translate(-12.13,0) scale(0.978,1)">2</text><text transform="translate(-20.40,0) scale(0.978,1)">0</text><text transform="translate(-28.66,0) scale(0.978,1)">2</text><text transform="translate(-32.79,0) scale(0.978,1)">.</text><path class="o" d="M-34.26,0V-10.46L-36.36,-8.36"/><text transform="translate(-44.92,0) scale(0.978,1)">0</text><text transform="translate(-49.06,0) scale(0.978,1)">.</text><text transform="translate(-57.32,0) scale(0.978,1)">6</text><path class="o" d="M-58.79,0V-10.46L-60.89,-8.36"/></g><g transform="translate(140.54,376.80) rotate(-45)"><path class="o" d="M-1.47,0V-10.46L-3.57,-8.36"/><text transform="translate(-12.13,0) scale(0.978,1)">2</text><text transform="translate(-20.40,0) scale(0.978,1)">0</text><text transform="translate(-28.66,0) scale(0.978,1)">2</text><text transform="translate(-32.79,0) scale(0.978,1)">.</text><path class="o" d="M-34.26,0V-10.46L-36.36,-8.36"/><text transform="translate(-44.92,0) scale(0.978,1)">0</text><text transform="translate(-49.06,0) scale(0.978,1)">.</text><text transform="translate(-57.32,0) scale(0.978,1)">7</text><text transform="translate(-65.59,0) scale(0.978,1)">2</text></g><g transform="translate(167.96,376.80) rotate(-45)"><path class="o" d="M-1.47,0V-10.46L-3.57,-8.36"/><text transform="translate(-12.13,0) scale(0.978,1)">2</text><text transform="translate(-20.40,0) scale(0.978,1)">0</text><text transform="translate(-28.66,0) scale(0.978,1)">2</text><text transform="translate(-32.79,0) scale(0.978,1)">.</text><text transform="translate(-41.06,0) scale(0.978,1)">2</text><text transform="translate(-49.32,0) scale(0.978,1)">0</text><text transform="translate(-53.46,0) scale(0.978,1)">.</text><text transform="translate(-61.72,0) scale(0.978,1)">7</text><text transform="translate(-69.99,0) scale(0.978,1)">0</text></g><g transform="translate(195.39,376.80) rotate(-45)"><path class="o" d="M-1.47,0V-10.46L-3.57,-8.36"/><text transform="translate(-12.13,0) scale(0.978,1)">2</text><text transform="translate(-20.40,0) scale(0.978,1)">0</text><text transform="translate(-28.66,0) scale(0.978,1)">2</text><text transform="translate(-32.79,0) scale(0.978,1)">.</text><text transform="translate(-41.06,0) scale(0.978,1)">2</text><text transform="translate(-49.32,0) scale(0.978,1)">0</text><text transform="translate(-53.46,0) scale(0.978,1)">.</text><text transform="translate(-61.72,0) scale(0.978,1)">8</text><path class="o" d="M-63.19,0V-10.46L-65.29,-8.36"/></g><g transform="translate(222.82,376.80) rotate(-45)"><path class="o" d="M-1.47,0V-10.46L-3.57,-8.36"/><text transform="translate(-12.13,0) scale(0.978,1)">2</text><text transform="translate(-20.40,0) scale(0.978,1)">0</text><text transform="translate(-28.66,0) scale(0.978,1)">2</text><text transform="translate(-32.79,0) scale(0.978,1)">.</text><text transform="translate(-41.06,0) scale(0.978,1)">3</text><text transform="translate(-49.32,0) scale(0.978,1)">0</text><text transform="translate(-53.46,0) scale(0.978,1)">.</text><path class="o" d="M-54.93,0V-10.46L-57.03,-8.36"/><text transform="translate(-65.59,0) scale(0.978,1)">0</text></g><g transform="translate(250.24,376.80) rotate(-45)"><path class="o" d="M-1.47,0V-10.46L-3.57,-8.36"/><text transform="translate(-12.13,0) scale(0.978,1)">2</text><text transform="translate(-20.40,0) scale(0.978,1)">0</text><text transform="translate(-28.66,0) scale(0.978,1)">2</text><text transform="translate(-32.79,0) scale(0.978,1)">.</text><text transform="translate(-41.06,0) scale(0.978,1)">3</text><text transform="translate(-49.32,0) scale(0.978,1)">0</text><text transform="translate(-53.46,0) scale(0.978,1)">.</text><text transform="translate(-61.72,0) scale(0.978,1)">2</text><path class="o" d="M-63.19,0V-10.46L-65.29,-8.36"/></g><g transform="translate(277.67,376.80) rotate(-45)"><path class="o" d="M-1.47,0V-10.46L-3.57,-8.36"/><text transform="translate(-12.13,0) scale(0.978,1)">2</text><text transform="translate(-20.40,0) scale(0.978,1)">0</text><text transform="translate(-28.66,0) scale(0.978,1)">2</text><text transform="translate(-32.79,0) scale(0.978,1)">.</text><text transform="translate(-41.06,0) scale(0.978,1)">3</text><text transform="translate(-49.32,0) scale(0.978,1)">0</text><text transform="translate(-53.46,0) scale(0.978,1)">.</text><text transform="translate(-61.72,0) scale(0.978,1)">3</text><text transform="translate(-69.99,0) scale(0.978,1)">2</text></g><g transform="translate(305.10,376.80) rotate(-45)"><path class="o" d="M-1.47,0V-10.46L-3.57,-8.36"/><text transform="translate(-12.13,0) scale(0.978,1)">2</text><text transform="translate(-20.40,0) scale(0.978,1)">0</text><text transform="translate(-28.66,0) scale(0.978,1)">2</text><text transform="translate(-32.79,0) scale(0.978,1)">.</text><text transform="translate(-41.06,0) scale(0.978,1)">4</text><text transform="translate(-49.32,0) scale(0.978,1)">0</text><text transform="translate(-53.46,0) scale(0.978,1)">.</text><text transform="translate(-61.72,0) scale(0.978,1)">3</text><text transform="translate(-69.99,0) scale(0.978,1)">0</text></g><g transform="translate(332.52,376.80) rotate(-45)"><path class="o" d="M-1.47,0V-10.46L-3.57,-8.36"/><text transform="translate(-12.13,0) scale(0.978,1)">2</text><text transform="translate(-20.40,0) scale(0.978,1)">0</text><text transform="translate(-28.66,0) scale(0.978,1)">2</text><text transform="translate(-32.79,0) scale(0.978,1)">.</text><text transform="translate(-41.06,0) scale(0.978,1)">4</text><text transform="translate(-49.32,0) scale(0.978,1)">0</text><text transform="translate(-53.46,0) scale(0.978,1)">.</text><text transform="translate(-61.72,0) scale(0.978,1)">4</text><path class="o" d="M-63.19,0V-10.46L-65.29,-8.36"/></g><g transform="translate(359.95,376.80) rotate(-45)"><path class="o" d="M-1.47,0V-10.46L-3.57,-8.36"/><text transform="translate(-12.13,0) scale(0.978,1)">2</text><text transform="translate(-20.40,0) scale(0.978,1)">0</text><text transform="translate(-28.66,0) scale(0.978,1)">2</text><text transform="translate(-32.79,0) scale(0.978,1)">.</text><text transform="translate(-41.06,0) scale(0.978,1)">4</text><text transform="translate(-49.32,0) scale(0.978,1)">0</text><text transform="translate(-53.46,0) scale(0.978,1)">.</text><text transform="translate(-61.72,0) scale(0.978,1)">5</text><text transform="translate(-69.99,0) scale(0.978,1)">2</text></g><g transform="translate(387.37,376.80) rotate(-45)"><path class="o" d="M-1.47,0V-10.46L-3.57,-8.36"/><text transform="translate(-12.13,0) scale(0.978,1)">2</text><text transform="translate(-20.40,0) scale(0.978,1)">0</text><text transform="translate(-28.66,0) scale(0.978,1)">2</text><text transform="translate(-32.79,0) scale(0.978,1)">.</text><text transform="translate(-41.06,0) scale(0.978,1)">5</text><text transform="translate(-49.32,0) scale(0.978,1)">0</text><text transform="translate(-53.46,0) scale(0.978,1)">.</text><text transform="translate(-61.72,0) scale(0.978,1)">6</text><text transform="translate(-69.99,0) scale(0.978,1)">0</text></g><g transform="translate(414.80,376.80) rotate(-45)"><path class="o" d="M-1.47,0V-10.46L-3.57,-8.36"/><text transform="translate(-12.13,0) scale(0.978,1)">2</text><text transform="translate(-20.40,0) scale(0.978,1)">0</text><text transform="translate(-28.66,0) scale(0.978,1)">2</text><text transform="translate(-32.79,0) scale(0.978,1)">.</text><text transform="translate(-41.06,0) scale(0.978,1)">5</text><text transform="translate(-49.32,0) scale(0.978,1)">0</text><text transform="translate(-53.46,0) scale(0.978,1)">.</text><text transform="translate(-61.72,0) scale(0.978,1)">7</text><path class="o" d="M-63.19,0V-10.46L-65.29,-8.36"/></g><g transform="translate(442.23,376.80) rotate(-45)"><path class="o" d="M-1.47,0V-10.46L-3.57,-8.36"/><text transform="translate(-12.13,0) scale(0.978,1)">2</text><text transform="translate(-20.40,0) scale(0.978,1)">0</text><text transform="translate(-28.66,0) scale(0.978,1)">2</text><text transform="translate(-32.79,0) scale(0.978,1)">.</text><text transform="translate(-41.06,0) scale(0.978,1)">5</text><text transform="translate(-49.32,0) scale(0.978,1)">0</text><text transform="translate(-53.46,0) scale(0.978,1)">.</text><text transform="translate(-61.72,0) scale(0.978,1)">8</text><text transform="translate(-69.99,0) scale(0.978,1)">2</text></g><g transform="translate(469.65,376.80) rotate(-45)"><path class="o" d="M-1.47,0V-10.46L-3.57,-8.36"/><text transform="translate(-12.13,0) scale(0.978,1)">2</text><text transform="translate(-20.40,0) scale(0.978,1)">0</text><text transform="translate(-28.66,0) scale(0.978,1)">2</text><text transform="translate(-32.79,0) scale(0.978,1)">.</text><text transform="translate(-41.06,0) scale(0.978,1)">6</text><text transform="translate(-49.32,0) scale(0.978,1)">0</text><text transform="translate(-53.46,0) scale(0.978,1)">.</text><text transform="translate(-61.72,0) scale(0.978,1)">8</text><text transform="translate(-69.99,0) scale(0.978,1)">0</text></g><g transform="translate(497.08,376.80) rotate(-45)"><path class="o" d="M-1.47,0V-10.46L-3.57,-8.36"/><text transform="translate(-12.13,0) scale(0.978,1)">2</text><text transform="translate(-20.40,0) scale(0.978,1)">0</text><text transform="translate(-28.66,0) scale(0.978,1)">2</text><text transform="translate(-32.79,0) scale(0.978,1)">.</text><text transform="translate(-41.06,0) scale(0.978,1)">6</text><text transform="translate(-49.32,0) scale(0.978,1)">0</text><text transform="translate(-53.46,0) scale(0.978,1)">.</text><text transform="translate(-61.72,0) scale(0.978,1)">9</text><path class="o" d="M-63.19,0V-10.46L-65.29,-8.36"/></g><g transform="translate(524.51,376.80) rotate(-45)"><path class="o" d="M-1.47,0V-10.46L-3.57,-8.36"/><text transform="translate(-12.13,0) scale(0.978,1)">2</text><text transform="translate(-20.40,0) scale(0.978,1)">0</text><text transform="translate(-28.66,0) scale(0.978,1)">2</text><text transform="translate(-32.79,0) scale(0.978,1)">.</text><text transform="translate(-41.06,0) scale(0.978,1)">6</text><text transform="translate(-49.32,0) scale(0.978,1)">0</text><text transform="translate(-53.46,0) scale(0.978,1)">.</text><text transform="translate(-61.72,0) scale(0.978,1)">0</text><text transform="translate(-69.99,0) scale(0.978,1)">3</text></g><g transform="translate(551.93,376.80) rotate(-45)"><path class="o" d="M-1.47,0V-10.46L-3.57,-8.36"/><text transform="translate(-12.13,0) scale(0.978,1)">2</text><text transform="translate(-20.40,0) scale(0.978,1)">0</text><text transform="translate(-28.66,0) scale(0.978,1)">2</text><text transform="translate(-32.79,0) scale(0.978,1)">.</text><text transform="translate(-41.06,0) scale(0.978,1)">7</text><text transform="translate(-49.32,0) scale(0.978,1)">0</text><text transform="translate(-53.46,0) scale(0.978,1)">.</text><path class="o" d="M-54.93,0V-10.46L-57.03,-8.36"/><path class="o" d="M-58.79,0V-10.46L-60.89,-8.36"/></g><g transform="translate(579.36,376.80) rotate(-45)"><path class="o" d="M-1.47,0V-10.46L-3.57,-8.36"/><text transform="translate(-12.13,0) scale(0.978,1)">2</text><text transform="translate(-20.40,0) scale(0.978,1)">0</text><text transform="translate(-28.66,0) scale(0.978,1)">2</text><text transform="translate(-32.79,0) scale(0.978,1)">.</text><text transform="translate(-41.06,0) scale(0.978,1)">7</text><text transform="translate(-49.32,0) scale(0.978,1)">0</text><text transform="translate(-53.46,0) scale(0.978,1)">.</text><text transform="translate(-61.72,0) scale(0.978,1)">2</text><text transform="translate(-69.99,0) scale(0.978,1)">2</text></g><g transform="translate(606.79,376.80) rotate(-45)"><path class="o" d="M-1.47,0V-10.46L-3.57,-8.36"/><text transform="translate(-12.13,0) scale(0.978,1)">2</text><text transform="translate(-20.40,0) scale(0.978,1)">0</text><text transform="translate(-28.66,0) scale(0.978,1)">2</text><text transform="translate(-32.79,0) scale(0.978,1)">.</text><text transform="translate(-41.06,0) scale(0.978,1)">8</text><text transform="translate(-49.32,0) scale(0.978,1)">0</text><text transform="translate(-53.46,0) scale(0.978,1)">.</text><text transform="translate(-61.72,0) scale(0.978,1)">2</text><text transform="translate(-69.99,0) scale(0.978,1)">0</text></g><g transform="translate(634.21,376.80) rotate(-45)"><path class="o" d="M-1.47,0V-10.46L-3.57,-8.36"/><text transform="translate(-12.13,0) scale(0.978,1)">2</text><text transform="translate(-20.40,0) scale(0.978,1)">0</text><text transform="translate(-28.66,0) scale(0.978,1)">2</text><text transform="translate(-32.79,0) scale(0.978,1)">.</text><text transform="translate(-41.06,0) scale(0.978,1)">8</text><text transform="translate(-49.32,0) scale(0.978,1)">0</text><text transform="translate(-53.46,0) scale(0.978,1)">.</text><text transform="translate(-61.72,0) scale(0.978,1)">3</text><path class="o" d="M-63.19,0V-10.46L-65.29,-8.36"/></g><g transform="translate(661.64,376.80) rotate(-45)"><path class="o" d="M-1.47,0V-10.46L-3.57,-8.36"/><text transform="translate(-12.13,0) scale(0.978,1)">2</text><text transform="translate(-20.40,0) scale(0.978,1)">0</text><text transform="translate(-28.66,0) scale(0.978,1)">2</text><text transform="translate(-32.79,0) scale(0.978,1)">.</text><text transform="translate(-41.06,0) scale(0.978,1)">8</text><text transform="translate(-49.32,0) scale(0.978,1)">0</text><text transform="translate(-53.46,0) scale(0.978,1)">.</text><text transform="translate(-61.72,0) scale(0.978,1)">4</text><text transform="translate(-69.99,0) scale(0.978,1)">2</text></g><g transform="translate(689.06,376.80) rotate(-45)"><path class="o" d="M-1.47,0V-10.46L-3.57,-8.36"/><text transform="translate(-12.13,0) scale(0.978,1)">2</text><text transform="translate(-20.40,0) scale(0.978,1)">0</text><text transform="translate(-28.66,0) scale(0.978,1)">2</text><text transform="translate(-32.79,0) scale(0.978,1)">.</text><text transform="translate(-41.06,0) scale(0.978,1)">9</text><text transform="translate(-49.32,0) scale(0.978,1)">0</text><text transform="translate(-53.46,0) scale(0.978,1)">.</text><text transform="translate(-61.72,0) scale(0.978,1)">4</text><text transform="translate(-69.99,0) scale(0.978,1)">0</text></g><g transform="translate(716.49,376.80) rotate(-45)"><path class="o" d="M-1.47,0V-10.46L-3.57,-8.36"/><text transform="translate(-12.13,0) scale(0.978,1)">2</text><text transform="translate(-20.40,0) scale(0.978,1)">0</text><text transform="translate(-28.66,0) scale(0.978,1)">2</text><text transform="translate(-32.79,0) scale(0.978,1)">.</text><text transform="translate(-41.06,0) scale(0.978,1)">9</text><text transform="translate(-49.32,0) scale(0.978,1)">0</text><text transform="translate(-53.46,0) scale(0.978,1)">.</text><text transform="translate(-61.72,0) scale(0.978,1)">5</text><path class="o" d="M-63.19,0V-10.46L-65.29,-8.36"/></g><g transform="translate(743.92,376.80) rotate(-45)"><path class="o" d="M-1.47,0V-10.46L-3.57,-8.36"/><text transform="translate(-12.13,0) scale(0.978,1)">2</text><text transform="translate(-20.40,0) scale(0.978,1)">0</text><text transform="translate(-28.66,0) scale(0.978,1)">2</text><text transform="translate(-32.79,0) scale(0.978,1)">.</text><text transform="translate(-41.06,0) scale(0.978,1)">9</text><text transform="translate(-49.32,0) scale(0.978,1)">0</text><text transform="translate(-53.46,0) scale(0.978,1)">.</text><text transform="translate(-61.72,0) scale(0.978,1)">6</text><text transform="translate(-69.99,0) scale(0.978,1)">2</text></g></g>
</svg>
</body></html>
